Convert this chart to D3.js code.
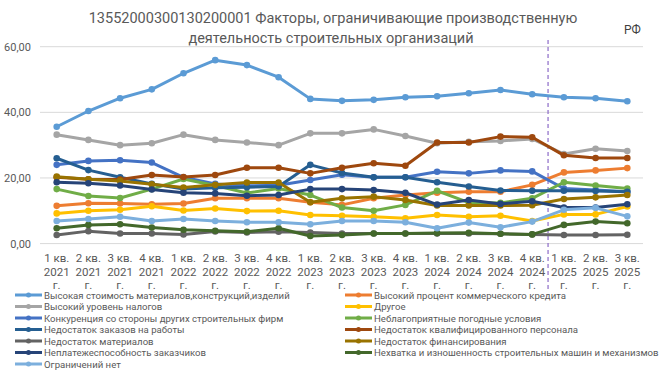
<!DOCTYPE html>
<html>
<head>
<meta charset="utf-8">
<script src="https://cdn.jsdelivr.net/npm/d3@7"></script>
<style>
  body { margin: 0; background: #fff; }
  svg { font-family: Roboto, "Open Sans", sans-serif; }
</style>
</head>
<body>
<svg id="chart" width="672" height="375"></svg>
<script>
// quarters
const categories = [
  "1 кв. 2021 г.", "2 кв. 2021 г.", "3 кв. 2021 г.", "4 кв. 2021 г.",
  "1 кв. 2022 г.", "2 кв. 2022 г.", "3 кв. 2022 г.", "4 кв. 2022 г.",
  "1 кв. 2023 г.", "2 кв. 2023 г.", "3 кв. 2023 г.", "4 кв. 2023 г.",
  "1 кв. 2024 г.", "2 кв. 2024 г.", "3 кв. 2024 г.", "4 кв. 2024 г.",
  "1 кв. 2025 г.", "2 кв. 2025 г.", "3 кв. 2025 г."
];

const vysokayaStoimost = [35.6, 40.4, 44.3, 47.0, 51.9, 55.9, 54.4, 50.7, 44.1, 43.5, 43.8, 44.6, 44.9, 45.8, 46.8, 45.5, 44.6, 44.3, 43.4];
const vysokiyProtsent = [11.5, 12.3, 12.2, 12.0, 12.2, 13.8, 13.8, 13.8, 12.6, 11.8, 13.8, 14.8, 15.5, 15.8, 15.8, 17.9, 21.7, 22.3, 23.0];
const nalogi = [33.2, 31.6, 30.0, 30.6, 33.2, 31.6, 30.8, 30.0, 33.6, 33.6, 34.8, 32.8, 30.6, 31.0, 31.3, 31.9, 27.3, 28.9, 28.2];
const drugoe = [9.2, 10.0, 10.3, 11.4, 10.1, 10.7, 9.9, 10.0, 8.7, 8.5, 8.2, 7.7, 8.7, 8.2, 8.5, 6.9, 8.9, 8.9, 11.3];
const konkurentsiya = [24.0, 25.2, 25.4, 24.7, 20.2, 18.2, 17.6, 17.8, 19.4, 21.0, 20.2, 20.2, 21.9, 21.4, 22.3, 22.0, 16.8, 16.3, 15.8];
const pogoda = [16.6, 14.5, 13.9, 16.6, 19.7, 17.7, 15.4, 16.8, 14.8, 11.0, 10.0, 11.8, 16.1, 12.5, 12.4, 13.8, 18.7, 17.7, 16.8];
const zakazy = [26.0, 22.4, 20.2, 18.2, 16.6, 17.0, 17.2, 17.4, 24.0, 21.5, 20.2, 20.2, 18.7, 17.4, 16.2, 16.1, 16.1, 16.0, 15.8];
const personal = [20.2, 19.6, 19.5, 20.9, 20.3, 20.9, 23.1, 23.1, 21.4, 23.1, 24.5, 23.7, 30.8, 30.8, 32.6, 32.4, 26.9, 26.1, 26.1];
const materialy = [2.6, 3.8, 3.1, 3.1, 2.8, 3.7, 3.4, 3.6, 3.4, 3.1, 3.1, 3.1, 3.1, 3.1, 3.0, 2.8, 2.6, 2.6, 2.7];
const finansirovanie = [20.4, 19.6, 19.1, 18.1, 17.1, 17.9, 18.6, 18.6, 12.6, 13.8, 14.3, 13.3, 11.6, 11.6, 11.6, 11.7, 13.6, 14.1, 14.8];
const neplatezh = [18.7, 18.4, 17.7, 16.5, 15.5, 15.3, 14.6, 14.8, 16.6, 16.6, 16.3, 15.5, 11.9, 13.3, 12.1, 12.9, 11.0, 11.0, 12.0];
const tehnika = [4.7, 5.7, 5.9, 4.9, 4.2, 3.9, 3.6, 4.7, 2.3, 2.6, 3.1, 3.1, 3.2, 3.3, 3.0, 2.8, 5.7, 6.7, 6.2];
const netOgranicheniy = [6.9, 7.5, 8.2, 6.9, 7.5, 6.9, 6.5, 6.5, 5.9, 6.9, 6.9, 6.5, 4.7, 6.4, 5.0, 6.7, 10.3, 10.9, 8.3];

const yTicks = [0, 20, 40, 60];

const series = [
  { name: "Высокая стоимость материалов,конструкций,изделий", values: vysokayaStoimost, color: "#5B9BD5" },
  { name: "Высокий процент коммерческого кредита", values: vysokiyProtsent, color: "#ED7D31" },
  { name: "Высокий уровень налогов", values: nalogi, color: "#A5A5A5" },
  { name: "Другое", values: drugoe, color: "#FFC000" },
  { name: "Конкуренция со стороны других строительных фирм", values: konkurentsiya, color: "#4472C4" },
  { name: "Неблагоприятные погодные условия", values: pogoda, color: "#70AD47" },
  { name: "Недостаток заказов на работы", values: zakazy, color: "#255E91" },
  { name: "Недостаток квалифицированного персонала", values: personal, color: "#9E480E" },
  { name: "Недостаток материалов", values: materialy, color: "#636363" },
  { name: "Недостаток финансирования", values: finansirovanie, color: "#997300" },
  { name: "Неплатежеспособность заказчиков", values: neplatezh, color: "#264478" },
  { name: "Нехватка и изношенность строительных машин и механизмов", values: tehnika, color: "#43682B" },
  { name: "Ограничений нет", values: netOgranicheniy, color: "#7CAFDD" }
];

const svg = d3.select("#chart");

const x = d3.scalePoint()
    .domain(categories)
    .range([56.7, 627.3]);

const y = d3.scaleLinear()
    .domain([0, 60])
    .range([243.6, 46.7]);

// title
svg.append("text")
    .attr("x", 333).attr("y", 23)
    .attr("text-anchor", "middle")
    .attr("font-size", 14.5)
    .attr("fill", "#595959")
    .text("13552000300130200001 Факторы, ограничивающие производственную");
svg.append("text")
    .attr("x", 331).attr("y", 43)
    .attr("text-anchor", "middle")
    .attr("font-size", 14.5)
    .attr("fill", "#595959")
    .text("деятельность строительных организаций");
svg.append("text")
    .attr("x", 624).attr("y", 34)
    .attr("font-size", 12)
    .attr("fill", "#404040")
    .text("РФ");

// grid
svg.append("g")
    .selectAll("line")
    .data(yTicks)
    .enter()
    .append("line")
    .attr("x1", 40).attr("x2", 643)
    .attr("y1", d => y(d)).attr("y2", d => y(d))
    .attr("stroke", "#d9d9d9")
    .attr("stroke-width", 1);

svg.append("g")
    .selectAll("text")
    .data(yTicks)
    .enter()
    .append("text")
    .attr("x", 31)
    .attr("y", d => y(d) + 4)
    .attr("text-anchor", "end")
    .attr("font-size", 11)
    .attr("fill", "#595959")
    .text(d => d3.format(".2f")(d).replace(".", ","));

// category labels, three rows each
const xLab = svg.append("g")
    .selectAll("text")
    .data(categories)
    .enter()
    .append("text")
    .attr("text-anchor", "middle")
    .attr("font-size", 11.5)
    .attr("fill", "#595959");
xLab.each(function(d) {
    const p = d.split(" ");
    const rows = [p[0] + " " + p[1], p[2], p[3]];
    const t = d3.select(this);
    rows.forEach(function(r, i) {
        t.append("tspan")
            .attr("x", x(d))
            .attr("y", 262 + i * 13.5)
            .text(r);
    });
});

// split between past and forecast
svg.append("line")
    .attr("x1", (x(categories[15]) + x(categories[16])) / 2)
    .attr("x2", (x(categories[15]) + x(categories[16])) / 2)
    .attr("y1", 40).attr("y2", 291)
    .attr("stroke", "#8c6bc8")
    .attr("stroke-width", 1.2)
    .attr("stroke-dasharray", "4,3");

const line = d3.line()
    .x((d, i) => x(categories[i]))
    .y(d => y(d));

const lines = svg.append("g")
    .selectAll("g")
    .data(series)
    .enter()
    .append("g");

lines.append("path")
    .attr("d", d => line(d.values))
    .attr("fill", "none")
    .attr("stroke", d => d.color)
    .attr("stroke-width", 3)
    .attr("stroke-linejoin", "round");

lines.selectAll("circle")
    .data(d => d.values.map(v => ({ v: v, color: d.color })))
    .enter()
    .append("circle")
    .attr("cx", (d, i) => x(categories[i]))
    .attr("cy", d => y(d.v))
    .attr("r", 3.3)
    .attr("fill", d => d.color);

// legend: two columns, left takes odd series, right takes even
const legend = svg.append("g")
    .selectAll("g")
    .data(series)
    .enter()
    .append("g")
    .attr("transform", function(d, i) {
        const col = i % 2;
        const row = Math.floor(i / 2);
        return "translate(" + (col === 0 ? 15 : 345) + "," + (295 + row * 11.5) + ")";
    });

legend.append("line")
    .attr("x1", 0).attr("x2", 27)
    .attr("stroke", d => d.color)
    .attr("stroke-width", 3);
legend.append("circle")
    .attr("cx", 13.5)
    .attr("r", 2.5)
    .attr("fill", d => d.color);
legend.append("text")
    .attr("x", 29)
    .attr("y", 3.6)
    .attr("font-size", 9.6)
    .attr("fill", "#595959")
    .text(d => d.name);
</script>
</body>
</html>
